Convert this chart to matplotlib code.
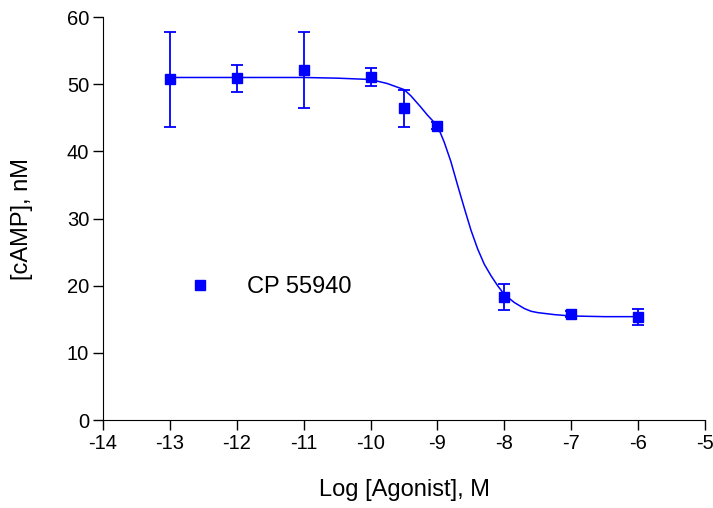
import matplotlib
matplotlib.use("Agg")
import matplotlib.pyplot as plt

plt.rcParams['font.family'] = ['Liberation Sans', 'DejaVu Sans']
plt.rcParams['axes.unicode_minus'] = False

# -----------------------------
# Data
# -----------------------------
log_conc = [-13, -12, -11, -10, -9.5, -9, -8, -7, -6]
camp_mean = [50.7, 50.9, 52.1, 51.1, 46.4, 43.8, 18.3, 15.8, 15.3]
camp_err = [7.1, 2.0, 5.7, 1.3, 2.8, 0.5, 1.9, 0.4, 1.2]

# fitted curve
curve_x = [-13, -12, -11, -10.5, -10, -9.75, -9.5, -9.4, -9.25, -9.15, -9.0,
           -8.9, -8.8, -8.7, -8.6, -8.5, -8.4, -8.3, -8.2, -8.1, -8.0, -7.85,
           -7.7, -7.6, -7.5, -7.25, -7, -6.5, -6]
curve_y = [51.0, 51.0, 51.0, 50.9, 50.7, 50.1, 49.2, 48.3, 46.6, 45.4, 43.8,
           41.4, 38.5, 35.0, 31.6, 28.3, 25.5, 23.2, 21.5, 20.0, 18.7, 17.5,
           16.6, 16.2, 16.0, 15.7, 15.5, 15.4, 15.4]

series_name = "CP 55940"
x_ticks = list(range(-14, -4))
y_ticks = [0, 10, 20, 30, 40, 50, 60]

blue = "#0000ff"
tick_fs = 14.5
label_fs = 17

fig = plt.figure(figsize=(7.13, 5.08), dpi=100)
ax = fig.add_axes([0.1445, 0.173, 0.8443, 0.7935])

ax.plot(curve_x, curve_y, color=blue, lw=1.1, zorder=2)
ax.errorbar(log_conc, camp_mean, yerr=camp_err, fmt='s', color=blue,
            ms=6.5, capsize=4, elinewidth=1.3, capthick=1.3, zorder=3,
            label=series_name)

ax.set_xlim(-14, -5)
ax.set_ylim(0, 60)
ax.set_xticks(x_ticks)
ax.set_yticks(y_ticks)
ax.spines['top'].set_visible(False)
ax.spines['right'].set_visible(False)
ax.tick_params(direction='out', length=7, width=1, labelsize=tick_fs, pad=3)
ax.set_xlabel("Log [Agonist], M", fontsize=label_fs, labelpad=19)
ax.set_ylabel("[cAMP], nM", fontsize=label_fs, labelpad=24)

handles, labels = ax.get_legend_handles_labels()
ax.legend([handles[0][0]], labels, loc='center left',
          bbox_to_anchor=(0.1415, 0.33), frameon=False, numpoints=1,
          handlelength=1, handletextpad=1.49, borderpad=0, borderaxespad=0,
          fontsize=label_fs)

fig.savefig("out.png", dpi=100)
